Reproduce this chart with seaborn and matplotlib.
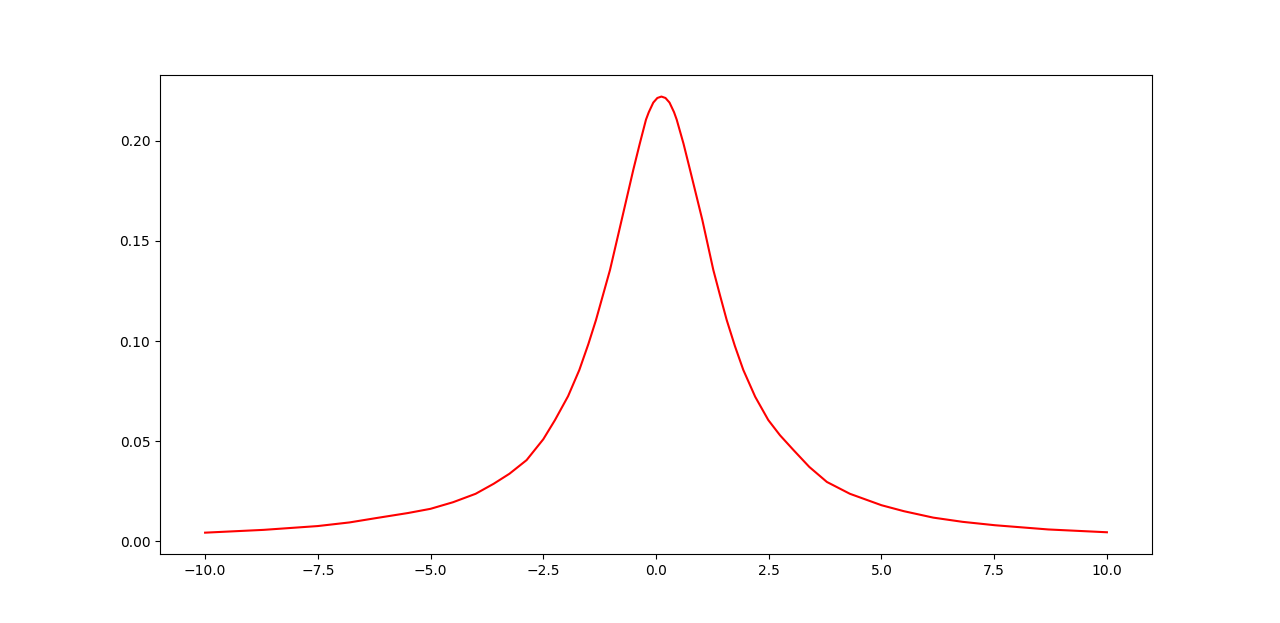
import numpy as np
import matplotlib
matplotlib.use('Agg')
import matplotlib.pyplot as plt
import seaborn as sns

# --- Values ---
x_vals = [-10.0, -8.7, -7.5, -6.8, -6.2, -5.5, -5.0, -4.5, -4.0, -3.6, -3.25,
          -2.87, -2.5, -2.24, -1.95, -1.70, -1.5, -1.331, -1.02, -0.761,
          -0.503, -0.36, -0.222, -0.16, -0.06, 0.03, 0.12, 0.21, 0.30, 0.40,
          0.459, 0.61, 0.754, 1.027, 1.271, 1.42, 1.568, 1.75, 1.936, 2.2,
          2.49, 2.75, 3.05, 3.4, 3.79, 4.3, 5.0, 5.5, 6.15, 6.8, 7.52, 8.7, 10.0]
y_vals = [0.0044, 0.0058, 0.0077, 0.0095, 0.0117, 0.0142, 0.0163, 0.0196, 0.0238,
          0.0288, 0.0338, 0.0406, 0.051, 0.0606, 0.0725, 0.0856, 0.0985, 0.1105,
          0.1355, 0.1605, 0.1855, 0.1985, 0.2105, 0.2142, 0.2190, 0.2213, 0.222,
          0.2213, 0.2190, 0.2142, 0.2105, 0.1985, 0.1855, 0.1605, 0.1355, 0.1228,
          0.1105, 0.0975, 0.0856, 0.0722, 0.0606, 0.053, 0.0456, 0.0372, 0.0297,
          0.0238, 0.0181, 0.0151, 0.0119, 0.0098, 0.0081, 0.0060, 0.0046]

fig, ax = plt.subplots(figsize=(12.8, 6.23), dpi=100)
sns.lineplot(x=x_vals, y=y_vals, color='red', linewidth=1.5, ax=ax)
ax.set_xticks([-10.0, -7.5, -5.0, -2.5, 0.0, 2.5, 5.0, 7.5, 10.0])
ax.set_yticks([0.00, 0.05, 0.10, 0.15, 0.20])

fig.savefig('out.png', dpi=100)
